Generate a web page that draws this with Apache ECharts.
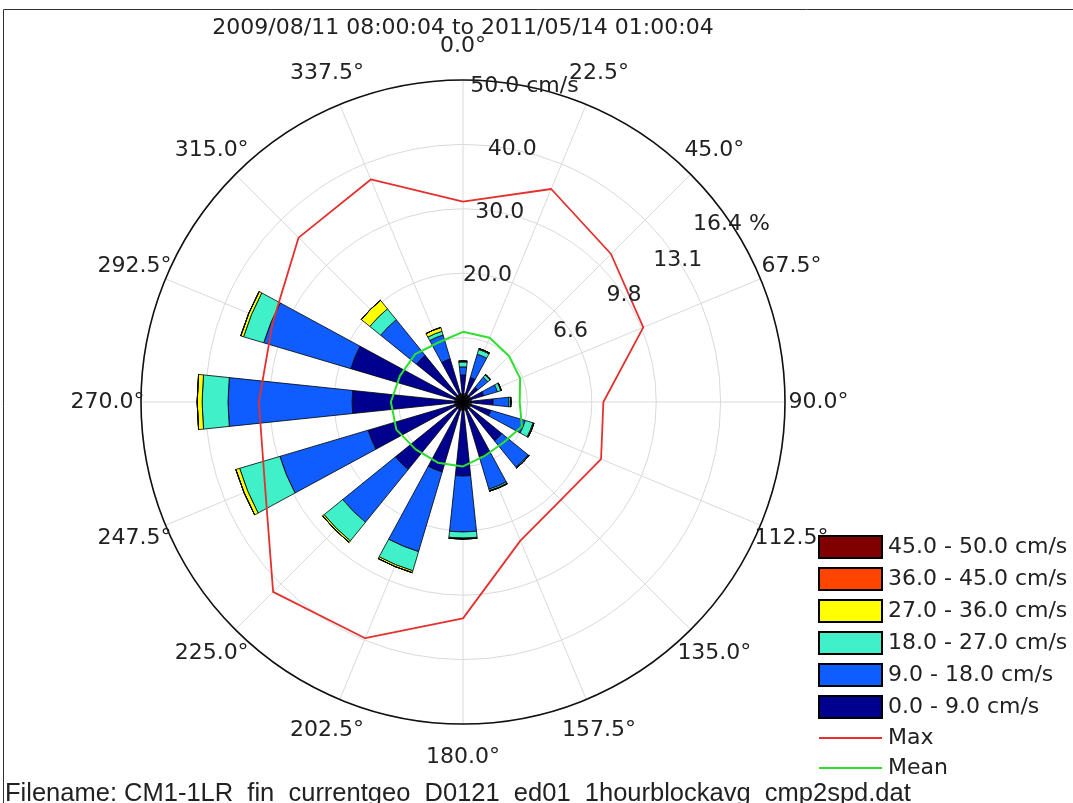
<!DOCTYPE html>
<html>
<head>
<meta charset="utf-8">
<script src="https://cdn.jsdelivr.net/npm/echarts@6/dist/echarts.min.js"></script>
<style>
html,body{margin:0;padding:0;background:#fff;}
#chart{width:1073px;height:803px;}
</style>
</head>
<body>
<div id="chart"></div>
<script>
// ---- data ----
const titleText = '2009/08/11 08:00:04 to 2011/05/14 01:00:04';
const fileText = 'Filename: CM1-1LR_fin_currentgeo_D0121_ed01_1hourblockavg_cmp2spd.dat';
const dirAngles = [0, 22.5, 45, 67.5, 90, 112.5, 135, 157.5, 180, 202.5, 225, 247.5, 270, 292.5, 315, 337.5];
const dirLabels = ['0.0°','22.5°','45.0°','67.5°','90.0°','112.5°','135.0°','157.5°','180.0°','202.5°','225.0°','247.5°','270.0°','292.5°','315.0°','337.5°'];
const binNames = ['0.0 - 9.0 cm/s','9.0 - 18.0 cm/s','18.0 - 27.0 cm/s','27.0 - 36.0 cm/s','36.0 - 45.0 cm/s','45.0 - 50.0 cm/s'];
const binColors = ['#00008f','#0f5cff','#40f0c8','#ffff00','#ff4500','#800000'];
// percent of records per direction and speed bin
const bin0 = [1.38, 1.30, 0.97, 1.10, 1.53, 1.48, 2.55, 2.90, 3.77, 3.72, 4.43, 5.04, 5.65, 5.96, 3.06, 2.29];
const bin1 = [0.41, 1.24, 0.66, 0.73, 0.81, 1.83, 1.73, 1.73, 2.85, 4.23, 3.46, 4.69, 6.32, 4.63, 2.34, 1.27];
const bin2 = [0.25, 0.25, 0.15, 0.18, 0.10, 0.41, 0.05, 0.08, 0.31, 1.02, 1.22, 2.14, 1.32, 1.07, 0.71, 0.20];
const bin3 = [0.05, 0.05, 0.03, 0.03, 0.00, 0.05, 0.00, 0.03, 0.05, 0.10, 0.10, 0.20, 0.25, 0.15, 0.56, 0.20];
const bin4 = [0, 0, 0, 0, 0, 0, 0, 0, 0, 0, 0, 0, 0, 0, 0, 0];
const bin5 = [0, 0, 0, 0, 0, 0, 0, 0, 0, 0, 0, 0, 0, 0, 0, 0];
const bins = [bin0, bin1, bin2, bin3, bin4, bin5];
// speed (cm/s) per direction
const maxSpeed  = [31.1, 35.8, 32.5, 30.3, 21.8, 23.2, 21.5, 23.3, 33.6, 39.7, 41.7, 33.3, 31.7, 32.0, 36.1, 37.4];
const meanSpeed = [10.9, 10.8, 10.1, 9.6, 8.8, 9.9, 8.9, 9.0, 10.0, 10.2, 10.4, 11.2, 11.2, 10.6, 10.5, 10.0];
const speedMax = 50;
const speedTicks = [20, 30, 40, 50];
const speedTickLabels = ['20.0', '30.0', '40.0', '50.0 cm/s'];
const pctMax = 16.4;
const pctTicks = [6.56, 9.84, 13.12, 16.4];
const pctTickLabels = ['6.6', '9.8', '13.1', '16.4 %'];
const hubPoint = [[0, 0]];

// ---- layout / style ----
const FONT = 'DejaVu Sans';
const CENTER = [463, 402];
const RADIUS = 322;
const TXT = '#222';
const LABEL_R = 55.2;        // in speed units, outside the rim
const SPEED_LABEL_ANGLE = 11;
const PCT_LABEL_ANGLE = 56.5;
const MAX_COLOR = '#e4312d';
const MEAN_COLOR = '#2ee02e';

const chart = echarts.init(document.getElementById('chart'), null, {renderer: 'canvas'});

const hiddenAxis = {axisLine:{show:false}, axisTick:{show:false}, axisLabel:{show:false}, splitLine:{show:false}};

function closed(arr) {
  const d = arr.map((v, i) => [v, dirAngles[i]]);
  d.push([arr[0], 360]);
  return d;
}

function textSeries(polarIndex, data, labels, z) {
  return {
    type: 'custom',
    coordinateSystem: 'polar',
    polarIndex: polarIndex,
    silent: true,
    z: z || 10,
    data: data,
    renderItem: function (params, api) {
      const p = api.coord([api.value(0), api.value(1)]);
      return {
        type: 'text',
        style: {
          text: labels[params.dataIndex],
          x: p[0], y: p[1],
          align: 'center', verticalAlign: 'middle',
          font: '22px "' + FONT + '"',
          fill: TXT
        }
      };
    }
  };
}

const series = [];
bins.forEach((arr, k) => {
  series.push({
    type: 'bar',
    name: binNames[k],
    coordinateSystem: 'polar',
    polarIndex: 0,
    stack: 'total',
    barWidth: '53%',
    data: arr,
    itemStyle: {color: binColors[k], borderColor: '#000', borderWidth: 0.8},
    z: 3
  });
});
series.push({
  type: 'scatter', name: 'hub', coordinateSystem: 'polar', polarIndex: 1,
  data: hubPoint, symbol: 'circle', symbolSize: 18, silent: true,
  itemStyle: {color: '#000'}, z: 4
});
series.push({
  type: 'line', name: 'Max', coordinateSystem: 'polar', polarIndex: 1,
  data: closed(maxSpeed), symbol: 'none', smooth: false,
  lineStyle: {color: MAX_COLOR, width: 1.8}, itemStyle: {color: MAX_COLOR}, z: 5
});
series.push({
  type: 'line', name: 'Mean', coordinateSystem: 'polar', polarIndex: 1,
  data: closed(meanSpeed), symbol: 'none', smooth: false,
  lineStyle: {color: MEAN_COLOR, width: 2}, itemStyle: {color: MEAN_COLOR}, z: 5
});
series.push(textSeries(1, dirAngles.map(a => [LABEL_R, a]), dirLabels));
series.push(textSeries(1, speedTicks.map(v => [v, SPEED_LABEL_ANGLE]), speedTickLabels));
series.push(textSeries(2, pctTicks.map(v => [v, PCT_LABEL_ANGLE]), pctTickLabels));

const LINE_ICON = 'path://M0,0L63,0L63,2L0,2Z';
const legendData = binNames.slice().reverse().map(n => ({name: n, icon: 'rect'}));
legendData.push({name: 'Max', icon: LINE_ICON, itemStyle: {color: MAX_COLOR, borderWidth: 0}});
legendData.push({name: 'Mean', icon: LINE_ICON, itemStyle: {color: MEAN_COLOR, borderWidth: 0}});

const option = {
  animation: false,
  backgroundColor: '#fff',
  textStyle: {fontFamily: FONT},
  polar: [
    {center: CENTER, radius: RADIUS},
    {center: CENTER, radius: RADIUS},
    {center: CENTER, radius: RADIUS}
  ],
  angleAxis: [
    Object.assign({polarIndex: 0, type: 'category', data: dirLabels, boundaryGap: false, startAngle: 90, clockwise: true}, hiddenAxis),
    {polarIndex: 1, type: 'value', min: 0, max: 360, interval: 22.5, startAngle: 90, clockwise: true,
     axisLine: {show: true, lineStyle: {color: '#111', width: 1.6}},
     axisTick: {show: false}, axisLabel: {show: false},
     splitLine: {show: true, lineStyle: {color: '#dadada', width: 1}}},
    Object.assign({polarIndex: 2, type: 'value', min: 0, max: 360, startAngle: 90, clockwise: true}, hiddenAxis)
  ],
  radiusAxis: [
    Object.assign({polarIndex: 0, type: 'value', min: 0, max: pctMax}, hiddenAxis),
    {polarIndex: 1, type: 'value', min: 0, max: speedMax, interval: 10,
     axisLine: {show: false}, axisTick: {show: false}, axisLabel: {show: false},
     splitLine: {show: true, lineStyle: {color: '#dadada', width: 1}}},
    Object.assign({polarIndex: 2, type: 'value', min: 0, max: pctMax}, hiddenAxis)
  ],
  legend: {
    orient: 'vertical',
    left: 818, top: 535, padding: 0,
    itemWidth: 63, itemHeight: 22, itemGap: 8,
    selectedMode: false,
    data: legendData,
    textStyle: {fontFamily: FONT, fontSize: 22, color: TXT, padding: [0, 0, 0, 1]}
  },
  graphic: [
    {type: 'rect', shape: {x: 3.5, y: 9.5, width: 1100, height: 820}, style: {fill: 'none', stroke: '#333', lineWidth: 1}, silent: true, z: 0},
    {type: 'text', style: {text: titleText, x: CENTER[0], y: 28, align: 'center', verticalAlign: 'middle', font: '22px "' + FONT + '"', fill: TXT}, silent: true},
    {type: 'text', style: {text: fileText, x: 5, y: 794, align: 'left', verticalAlign: 'middle', font: '25.5px "Liberation Sans"', fill: TXT}, silent: true}
  ],
  series: series
};
chart.setOption(option);
</script>
</body>
</html>
